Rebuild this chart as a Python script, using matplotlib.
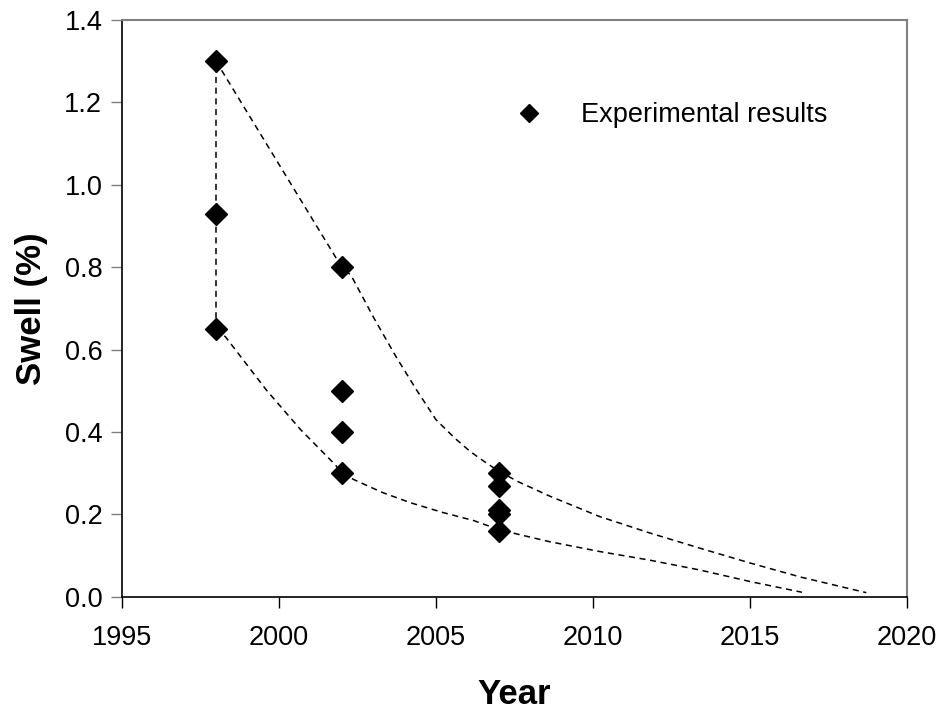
import matplotlib
matplotlib.use('Agg')
import matplotlib.pyplot as plt

plt.rcParams['font.family'] = ['Liberation Sans', 'DejaVu Sans']

# Experimental results
exp_year = [1998, 1998, 1998, 2002, 2002, 2002, 2002, 2007, 2007, 2007, 2007, 2007]
exp_swell = [1.30, 0.93, 0.65, 0.80, 0.50, 0.40, 0.30, 0.30, 0.27, 0.21, 0.20, 0.16]

# Dashed envelope curves
upper_year = [1998, 2002, 2002.3, 2003.0, 2003.75, 2004.4, 2005.0, 2005.6, 2006.1, 2006.6, 2007,
              2007.6, 2008.6, 2010.2, 2011.8, 2013.4, 2015, 2016.6, 2018.7]
upper_swell = [1.30, 0.80, 0.78, 0.68, 0.58, 0.50, 0.43, 0.385, 0.352, 0.325, 0.305,
               0.28, 0.245, 0.195, 0.155, 0.118, 0.082, 0.048, 0.01]
lower_year = [1998, 1998.3, 1999.6, 2000.7, 2001.8, 2002, 2002.4, 2003.3, 2004.2, 2005.2,
              2006.2, 2006.6, 2007, 2007.6, 2008.6, 2010.2, 2011.8, 2013.4, 2015, 2016.65]
lower_swell = [0.65, 0.631, 0.502, 0.405, 0.32, 0.30, 0.284, 0.253, 0.228, 0.205,
               0.185, 0.174, 0.163, 0.152, 0.134, 0.11, 0.089, 0.065, 0.037, 0.011]
vert_year = [1998, 1998]
vert_swell = [0.65, 1.30]

fig = plt.figure(figsize=(9.44, 7.13), dpi=100)
ax = fig.add_axes([0.129, 0.163, 0.832, 0.809])

dash = dict(color='black', lw=1.1, ls=(0, (4, 3)))
ax.plot(upper_year, upper_swell, **dash)
ax.plot(lower_year, lower_swell, **dash)
ax.plot(vert_year, vert_swell, **dash)
ax.plot(exp_year, exp_swell, ls='none', marker='D', ms=11, color='black',
        label='Experimental results', zorder=3)

ax.set_xlim(1995, 2020)
ax.set_ylim(0, 1.4)
ax.set_xticks(range(1995, 2021, 5))
ax.set_yticks([0.0, 0.2, 0.4, 0.6, 0.8, 1.0, 1.2, 1.4])
ax.set_yticklabels([f'{v:.1f}' for v in ax.get_yticks()])
ax.tick_params(axis='both', direction='out', length=8, width=1, labelsize=19.5, pad=6)
ax.tick_params(axis='x', pad=12.5)
ax.tick_params(axis='y', colors='#808080', labelcolor='black')

for s in ['top', 'right']:
    ax.spines[s].set_color('#808080')
    ax.spines[s].set_linewidth(1.5)
for s in ['left', 'bottom']:
    ax.spines[s].set_color('black')
    ax.spines[s].set_linewidth(1.2)

ax.set_xlabel('Year', fontsize=25, fontweight='bold', labelpad=19)
ax.set_ylabel('Swell (%)', fontsize=25, fontweight='bold', labelpad=12)

ax.legend(loc='upper right', bbox_to_anchor=(0.93, 0.90), frameon=False, fontsize=19.5,
          markerscale=0.85, handletextpad=1.2, handlelength=1.5)

fig.savefig('out.png', dpi=100)
